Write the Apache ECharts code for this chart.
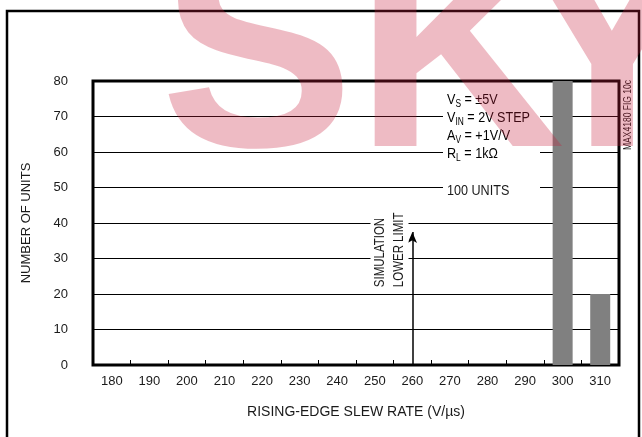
<!DOCTYPE html>
<html><head><meta charset="utf-8">
<script src="https://cdn.jsdelivr.net/npm/echarts@6/dist/echarts.min.js"></script>
<style>html,body{margin:0;padding:0;background:#fff}#c{width:642px;height:437px}</style>
</head><body><div id="c"></div>
<script>
const categories = ['180','190','200','210','220','230','240','250','260','270','280','290','300','310'];
const units = [0,0,0,0,0,0,0,0,0,0,0,0,80,20];
const yMin = 0, yMax = 80, yStep = 10;
const limitCategory = '260';
const limitArrowTop = 37.5;
const conditionLines = [
  '{m|V}{s|S}{m| = ±5V}',
  '{m|V}{s|IN}{m| = 2V STEP}',
  '{m|A}{s|V}{m| = +1V/V}',
  '{m|R}{s|L}{m| = 1kΩ}'
];
const unitsNote = '100 UNITS';
const limitNote = 'SIMULATION\nLOWER LIMIT';
const figNote = 'MAX4180 FIG 10c';
const xTitle = 'RISING-EDGE SLEW RATE (V/µs)';
const yTitle = 'NUMBER OF UNITS';

const FONT = "'Liberation Sans Narrow','Arial Narrow','Liberation Sans',sans-serif";
const TXT = '#1a1a1a';
const NARROW = 0.84;
const chart = echarts.init(document.getElementById('c'));

const wm = 'rgba(200,30,60,0.30)';
function letter(ch, x, y, sx) {
  return {type:'text', x:x, y:y, z:100, silent:true, scaleX:sx||1,
    style:{text:ch, fill:wm, font:"bold 290px 'Liberation Sans',Arial,sans-serif", textAlign:'center', textVerticalAlign:'middle'}};
}
const rich = {m:{fontSize:15, fontFamily:FONT, color:TXT, lineHeight:18, verticalAlign:'middle'},
              s:{fontSize:10, fontFamily:FONT, color:TXT, lineHeight:10, verticalAlign:'bottom'}};

const graphics = [
  {type:'rect', z:50, silent:true, shape:{x:7, y:11, width:632, height:440}, style:{fill:'none', stroke:'#000', lineWidth:2.5}},
  {type:'rect', z:5, silent:true, shape:{x:443, y:88, width:97, height:74}, style:{fill:'#fff'}},
  {type:'rect', z:5, silent:true, shape:{x:443, y:183, width:97, height:16}, style:{fill:'#fff'}},
];
conditionLines.forEach((t,i)=>{
  graphics.push({type:'text', z:6, silent:true, x:447, y:100+i*18, scaleX:NARROW,
    style:{text:t, rich:rich, textAlign:'left', textVerticalAlign:'middle'}});
});
graphics.push({type:'text', z:6, silent:true, x:447, y:191, scaleX:NARROW,
  style:{text:unitsNote, fill:TXT, font:'15px '+FONT, textAlign:'left', textVerticalAlign:'middle'}});
graphics.push({type:'text', z:6, silent:true, x:389.5, y:288, rotation:Math.PI/2, scaleX:0.82,
  style:{text:limitNote, fill:TXT, font:'14px '+FONT, lineHeight:19, textAlign:'left', textVerticalAlign:'middle',
         backgroundColor:'#fff', padding:[0,1,0,1]}});
graphics.push({type:'text', z:6, silent:true, x:628, y:115, rotation:Math.PI/2, scaleX:0.85,
  style:{text:figNote, fill:TXT, font:'10px '+FONT, textAlign:'center', textVerticalAlign:'middle'}});
graphics.push(letter('S', 257, 66), letter('K', 460, 66), letter('Y', 612, 66));

chart.setOption({
  animation:false,
  backgroundColor:'#fff',
  grid:{left:93, right:23, top:81, bottom:72, show:true, borderColor:'#000', borderWidth:3, z:3},
  xAxis:{type:'category', data:categories, boundaryGap:true,
    name:xTitle, nameLocation:'middle', nameGap:40,
    nameTextStyle:{fontSize:14, fontFamily:FONT, color:TXT},
    axisLine:{show:false},
    axisTick:{show:true, inside:true, length:5, interval:0, lineStyle:{color:'#000', width:1}},
    axisLabel:{interval:0, margin:10, fontSize:13, fontFamily:FONT, color:TXT},
    splitLine:{show:false}},
  yAxis:{type:'value', min:yMin, max:yMax, interval:yStep,
    name:yTitle, nameLocation:'middle', nameGap:60, nameRotate:90,
    nameTextStyle:{fontSize:13, fontFamily:FONT, color:TXT},
    axisLine:{show:false}, axisTick:{show:false},
    axisLabel:{margin:25, fontSize:13, fontFamily:FONT, color:TXT},
    splitLine:{show:true, lineStyle:{color:'#000', width:1}}},
  series:[{type:'bar', data:units, barWidth:20, z:4,
    itemStyle:{color:'#808080'},
    markLine:{silent:true, symbol:['none','arrow'], symbolSize:[7,11],
      lineStyle:{color:'#000', width:1.5, type:'solid'}, label:{show:false},
      data:[[{coord:[limitCategory, 0]},{coord:[limitCategory, limitArrowTop]}]]}}],
  graphic:graphics
});
</script></body></html>
